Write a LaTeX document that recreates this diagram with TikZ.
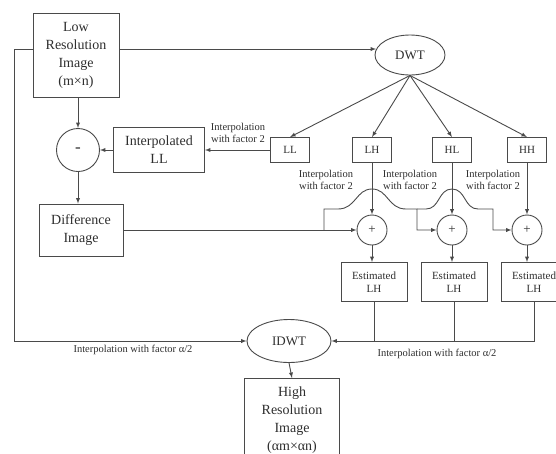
\documentclass[tikz,border=0pt]{standalone}
\usepackage{fontspec}
\setmainfont{Liberation Serif}
\usetikzlibrary{shapes.geometric}
\definecolor{linegray}{HTML}{4A4A4A}
\definecolor{txtgray}{HTML}{2E2E2E}
\tikzset{
	block/.style={draw=linegray, line width=0.9pt, align=center, text=txtgray, font=\fontsize{14}{18}\selectfont, inner sep=3pt},
	smallblock/.style={draw=linegray, line width=0.9pt, align=center, text=txtgray, font=\fontsize{11}{13}\selectfont, inner sep=2pt},
	sumnode/.style={circle, draw=linegray, line width=0.9pt, minimum size=30pt, inner sep=0pt, text=txtgray, font=\fontsize{13}{13}\selectfont},
	xform/.style={ellipse, draw=linegray, line width=0.9pt, inner sep=0pt, text=txtgray, font=\fontsize{13}{13}\selectfont},
	lbl/.style={align=center, text=txtgray, font=\fontsize{10.5}{11.5}\selectfont},
	conn/.style={draw=linegray, line width=0.9pt},
	>=latex
}
\begin{document}
\begin{tikzpicture}[x=1pt,y=-1pt]
			\useasboundingbox (0,0) rectangle (556,453);
			
			% input, decomposition
			\node[block, minimum width=86pt, minimum height=84pt] (lowres) at (76,55) {Low\\Resolution\\Image\\(m×n)};
			\node[xform, minimum width=70pt, minimum height=40pt] (dwt) at (410,55) {DWT};
			\node[sumnode, minimum size=43pt, font=\fontsize{17}{17}\selectfont] (minus) at (78,150) {-};
			\node[block, minimum width=91pt, minimum height=45pt] (interpll) at (159,150) {Interpolated\\LL};
			\node[block, minimum width=84pt, minimum height=52pt] (diff) at (81,230) {Difference\\Image};
			
			\node[smallblock, minimum width=39pt, minimum height=25pt] (ll) at (290,150) {LL};
			\node[smallblock, minimum width=39pt, minimum height=25pt] (lh) at (372,150) {LH};
			\node[smallblock, minimum width=39pt, minimum height=25pt] (hl) at (452,150) {HL};
			\node[smallblock, minimum width=39pt, minimum height=25pt] (hh) at (527,150) {HH};
			
			\node[lbl] (lbl0) at (238,133) {Interpolation\\with factor 2};
			\node[lbl] (lbl1) at (326,180) {Interpolation\\with factor 2};
			\node[lbl] (lbl2) at (410,180) {Interpolation\\with factor 2};
			\node[lbl] (lbl3) at (493,180) {Interpolation\\with factor 2};
			
			% adders and estimates
			\node[sumnode] (plus1) at (372,230) {+};
			\node[sumnode] (plus2) at (452,230) {+};
			\node[sumnode] (plus3) at (527,230) {+};
			
			\node[smallblock, minimum width=66pt, minimum height=39pt] (est1) at (374,282) {Estimated\\LH};
			\node[smallblock, minimum width=66pt, minimum height=39pt] (est2) at (454,282) {Estimated\\LH};
			\node[smallblock, minimum width=66pt, minimum height=39pt] (est3) at (534,282) {Estimated\\LH};
			
			% reconstruction
			\node[xform, minimum width=84pt, minimum height=43pt] (idwt) at (289,341) {IDWT};
			\node[block, minimum width=95pt, minimum height=84pt, anchor=north] (highres) at (292,378) {High\\Resolution\\Image\\(αm×αn)};
			
			\node[lbl] (lbla) at (133,350) {Interpolation with factor α/2};
			\node[lbl] (lblb) at (437,354) {Interpolation with factor α/2};
			
			\coordinate (lft) at (14,341);
			\coordinate (j1) at (324,230);
			\coordinate (j2) at (417,209);
			\coordinate (j3) at (493,209);
			
			\draw[conn,->] (lowres.east |- dwt.170) -- (dwt.170);
			\draw[conn,->] (lowres.west |- dwt.170) -| (lft) -- (idwt.west);
			\draw[conn,->] (lowres.south -| minus) -- (minus.north);
			\draw[conn,->] (interpll.west) -- (minus.east);
			\draw[conn,->] (ll.west) -- (interpll.east);
			\draw[conn,->] (minus.south) -- (minus.south |- diff.north);
			
			\foreach \b in {ll,lh,hl,hh}
				\draw[conn,->] (dwt.south) -- (\b.north);
			
			\foreach \b/\p in {lh/plus1,hl/plus2,hh/plus3}
				\draw[conn,->] (\b.south) -- (\p.north);
			
			\foreach \p/\e in {plus1/est1,plus2/est2,plus3/est3}
				\draw[conn,->] (\p.south) -- (\p.south |- \e.north);
			
			\draw[conn,->] (diff.east) -- (plus1.west);
			\draw[conn,->] (j1) |- (338,209) .. controls (356,209) and (356,189) .. (372,189) .. controls (388,189) and (388,209) .. (406,209) -- (j2) |- (plus2.west);
			\draw[conn,->] (j2) -- (426,209) .. controls (440,209) and (438,189) .. (452,189) .. controls (466,189) and (464,209) .. (478,209) -- (j3) |- (plus3.west);
			
			\draw[conn,->] (est3.south) |- (idwt.east);
			\draw[conn] (est1.south) -- (est1.south |- idwt.east);
			\draw[conn] (est2.south) -- (est2.south |- idwt.east);
			
			\draw[conn,->] (idwt.south) -- (highres.north);
			
		\end{tikzpicture}
\end{document}
